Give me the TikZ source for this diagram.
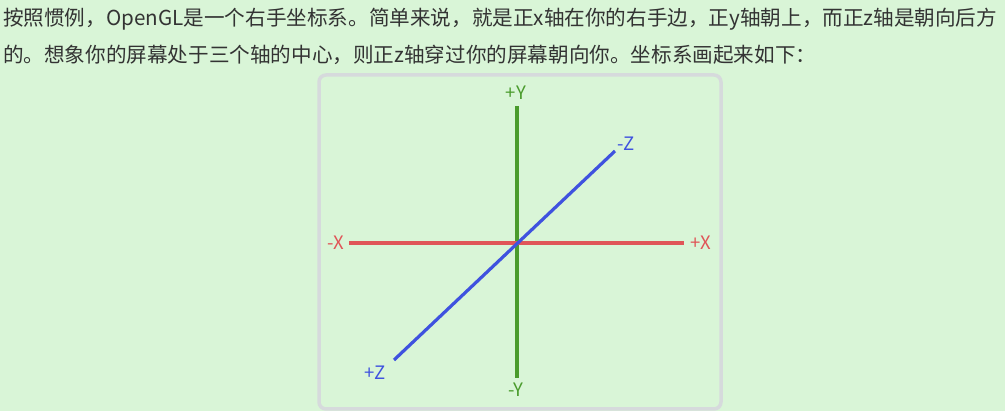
\documentclass[tikz,border=0pt]{standalone}
\usepackage{fontspec}
\setmainfont{Noto Sans CJK SC}
\begin{document}
\begin{tikzpicture}[x=1pt,y=-1pt,
  bodytext/.style={anchor=base west,inner sep=0pt,text=txt,font=\fontsize{20.6}{24}\selectfont},
  axlabel/.style={inner sep=0pt,font=\fontsize{18.5}{20}\selectfont},
  axisline/.style={line width=3.2pt},
  frame/.style={draw=framegray,line width=3.5pt,rounded corners=7pt}]
\definecolor{bg}{HTML}{D9F5D7}
\definecolor{txt}{HTML}{333333}
\definecolor{framegray}{HTML}{D6DADC}
\definecolor{ygreen}{HTML}{4A9B2C}
\definecolor{xred}{HTML}{E05558}
\definecolor{zblue}{HTML}{3F52DF}
\fill[bg] (0,0) rectangle (1005,411);
\useasboundingbox (0,0) rectangle (1005,411);
\node[bodytext] (line1) at (3,26) {按照惯例，OpenGL是一个右手坐标系。简单来说，就是正x轴在你的右手边，正y轴朝上，而正z轴是朝向后方};
\node[bodytext] (line2) at (3,63) {的。想象你的屏幕处于三个轴的中心，则正z轴穿过你的屏幕朝向你。坐标系画起来如下：};
\draw[frame] (319,75) rectangle (721,409);
\coordinate (ytop) at (517,106);
\coordinate (ybot) at (517,378);
\coordinate (xl) at (349,243);
\coordinate (xr) at (684,243);
\coordinate (zfar) at (615,151);
\coordinate (znear) at (394,360);
\draw[axisline,ygreen] (ytop) -- (ybot);
\draw[axisline,xred] (xl) -- (xr);
\draw[axisline,zblue] (znear) -- (zfar);
\node[axlabel,text=ygreen] (py) at (516,93) {+Y};
\node[axlabel,text=ygreen] (my) at (516,390) {-Y};
\node[axlabel,text=xred] (mx) at (336,243) {-X};
\node[axlabel,text=xred] (px) at (701,243) {+X};
\node[axlabel,text=zblue] (mz) at (626,144) {-Z};
\node[axlabel,text=zblue] (pz) at (375,373) {+Z};
\end{tikzpicture}
\end{document}
